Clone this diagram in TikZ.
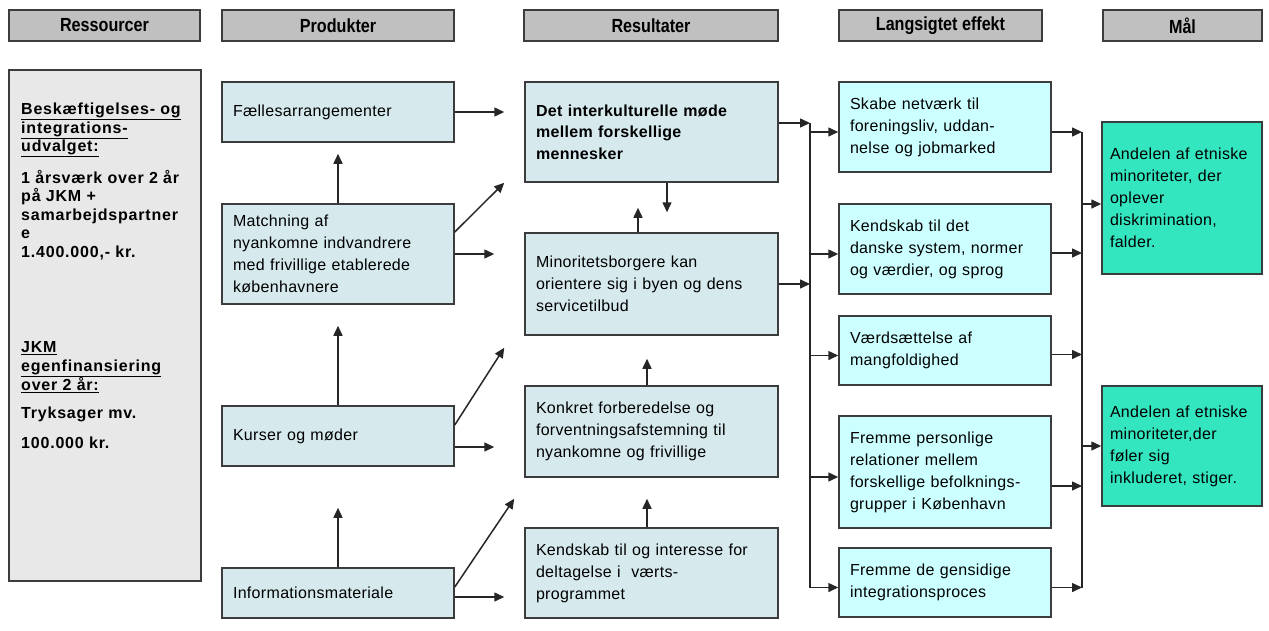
\documentclass[tikz,border=0pt]{standalone}
\usepackage{fontspec}
\setmainfont{Liberation Sans}[LetterSpace=2]
\newfontfamily\hdfont{Liberation Sans}[FakeStretch=0.85]
\newfontfamily\resfont{Liberation Sans}[LetterSpace=5]
\usetikzlibrary{positioning}
\usetikzlibrary{calc}
\usetikzlibrary{arrows.meta}
\definecolor{headgray}{RGB}{192,192,192}
\definecolor{resgray}{RGB}{232,232,232}
\definecolor{outblue}{RGB}{214,234,238}
\definecolor{effcyan}{RGB}{204,255,255}
\definecolor{goalgreen}{RGB}{51,230,192}
\definecolor{edge}{RGB}{60,60,60}

\begin{document}
\begin{tikzpicture}[x=1pt, y=-1pt,
    box/.style={draw=edge, line width=1.5pt, rectangle, inner xsep=11pt, inner ysep=0pt, align=left, font=\fontsize{16}{22}\selectfont},
    header/.style={box, fill=headgray, minimum height=31pt, minimum width=#1, align=center, font=\hdfont\fontsize{19}{20}\selectfont\bfseries},
    prodbox/.style={box, fill=outblue, text width=210pt, minimum height=#1},
    resbox/.style={box, fill=outblue, text width=231pt, minimum height=#1},
    effbox/.style={box, fill=effcyan, text width=190pt, minimum height=#1},
    goalbox/.style={box, fill=goalgreen, inner xsep=8pt, text width=144pt, minimum height=#1},
    arr/.style={-{Triangle[length=10pt,width=9pt]}, line width=1.5pt, black!85},
    bus/.style={line width=1.5pt, black!85}]
    \useasboundingbox (0,0) rectangle (1269,630);

    % column headers
    \node[header=191pt] (hres) at (104.5,25.5) {Ressourcer};
    \node[header=232pt] (hprod) at (338,25.5) {Produkter};
    \node[header=254pt] (hout) at (651,25.5) {Resultater};
    \node[header=203pt] (heff) at (940.5,25.5) {Langsigtet effekt};
    \node[header=159pt] (hgoal) at (1182.5,25.5) {Mål};

    % resources
    \node[box, fill=resgray, minimum width=192pt, minimum height=511pt] (res) at (105,325.5) {};
    \node[anchor=north west, inner sep=0pt, align=left, font=\resfont\fontsize{16}{18.5}\selectfont\bfseries] (restxt) at (21,103)
        {\underline{Beskæftigelses- og}\\\underline{integrations-}\\\underline{udvalget:}\\[12pt]
         1 årsværk over 2 år\\på JKM +\\samarbejdspartner\\e\\1.400.000,- kr.\\[77pt]
         \underline{JKM}\\\underline{egenfinansiering}\\\underline{over 2 år:}\\[9.5pt]
         Tryksager mv.\\[11.5pt]100.000 kr.};

    % products
    \node[prodbox=60pt] (P1) at (338,112) {Fællesarrangementer};
    \node[prodbox=100pt] (P2) at (338,254) {Matchning af\\nyankomne indvandrere\\med frivillige etablerede\\københavnere};
    \node[prodbox=60pt] (P3) at (338,436) {Kurser og møder};
    \node[prodbox=50pt] (P4) at (338,593) {Informationsmateriale};

    % results
    \node[resbox=100pt, font=\fontsize{16}{21.5}\selectfont\bfseries] (R1) at (651.5,132) {Det interkulturelle møde\\mellem forskellige\\mennesker};
    \node[resbox=102pt] (R2) at (651.5,284) {Minoritetsborgere kan\\orientere sig i byen og dens\\servicetilbud};
    \node[resbox=91pt] (R3) at (651.5,431.5) {Konkret forberedelse og\\forventningsafstemning til\\nyankomne og frivillige};
    \node[resbox=90pt] (R4) at (651.5,573) {Kendskab til og interesse for\\deltagelse i \ værts-\\programmet};

    % long-term effects
    \node[effbox=90pt] (L1) at (945,127) {Skabe netværk til\\foreningsliv, uddan-\\nelse og jobmarked};
    \node[effbox=90pt] (L2) at (945,249) {Kendskab til det\\danske system, normer\\og værdier, og sprog};
    \node[effbox=69pt] (L3) at (945,350.5) {Værdsættelse af\\mangfoldighed};
    \node[effbox=112pt] (L4) at (945,472) {Fremme personlige\\relationer mellem\\forskellige befolknings-\\grupper i København};
    \node[effbox=69pt] (L5) at (945,582.5) {Fremme de gensidige\\integrationsproces};

    % goals
    \node[goalbox=152pt] (M1) at (1182,198) {\mbox{Andelen af etniske}\\minoriteter, der\\oplever\\diskrimination,\\falder.};
    \node[goalbox=120pt] (M2) at (1182,446) {\mbox{Andelen af etniske}\\minoriteter,der\\føler sig\\inkluderet, stiger.};

    % arrows between products and results
    \draw[arr, shorten >=20pt] (P1.east) -- (P1.east -| R1.west);
    \draw[arr, shorten >=11pt] (P2.north) -- (P1.south);
    \draw[arr] ([yshift=22pt]P2.east) -- ([xshift=-20pt]R1.south west);
    \draw[arr, shorten >=30pt] (P2.east) -- (P2.east -| R2.west);
    \draw[arr, shorten >=21pt] (P3.north) -- (P2.south);
    \draw[arr] ([yshift=11pt]P3.east) -- ([xshift=-20pt,yshift=-12pt]R2.south west);
    \draw[arr, shorten >=30pt] ([yshift=-11pt]P3.east) -- ([yshift=-11pt]P3.east -| R3.west);
    \draw[arr, shorten >=41pt] (P4.north) -- (P3.south);
    \draw[arr] ([yshift=6pt]P4.east) -- ([xshift=-10pt,yshift=-21pt]R3.south west);
    \draw[arr, shorten >=20pt] ([yshift=-4pt]P4.east) -- ([yshift=-4pt]P4.east -| R4.west);

    % arrows between results
    \draw[arr, shorten >=20pt] ([xshift=15.5pt]R1.south) -- ([xshift=15.5pt]R2.north);
    \draw[arr, shorten >=25pt] ([xshift=-13.5pt]R2.north) -- ([xshift=-13.5pt]R1.south);
    \draw[arr, shorten >=23pt] ([xshift=-4.5pt]R3.north) -- ([xshift=-4.5pt]R2.south);
    \draw[arr, shorten >=21pt] ([xshift=-4.5pt]R4.north) -- ([xshift=-4.5pt]R3.south);

    % first bus
    \coordinate (b1top) at (810,123);
    \coordinate (b1bot) at (810,588);
    \draw[bus] (b1top) -- (b1bot);
    \draw[arr] ([yshift=9pt]R1.east) -- ([yshift=9pt]R1.east -| b1top);
    \draw[arr] (R2.east) -- (R2.east -| b1top);
    \foreach \n in {L1,L2,L3,L4,L5}
        \draw[arr] ([yshift=-5pt]\n.west -| b1top) -- ([yshift=-5pt]\n.west);

    % second bus
    \coordinate (b2top) at (1082,132);
    \coordinate (b2bot) at (1082,588);
    \draw[bus] (b2top) -- (b2bot);
    \foreach \n/\d in {L1/-5,L2/-4,L3/-4,L4/-14,L5/-5}
        \draw[arr] ([yshift=\d pt]\n.east) -- ([yshift=\d pt]\n.east -| b2top);
    \draw[arr] ([yshift=-6pt]M1.west -| b2top) -- ([yshift=-6pt]M1.west);
    \draw[arr] (M2.west -| b2top) -- (M2.west);
\end{tikzpicture}
\end{document}
